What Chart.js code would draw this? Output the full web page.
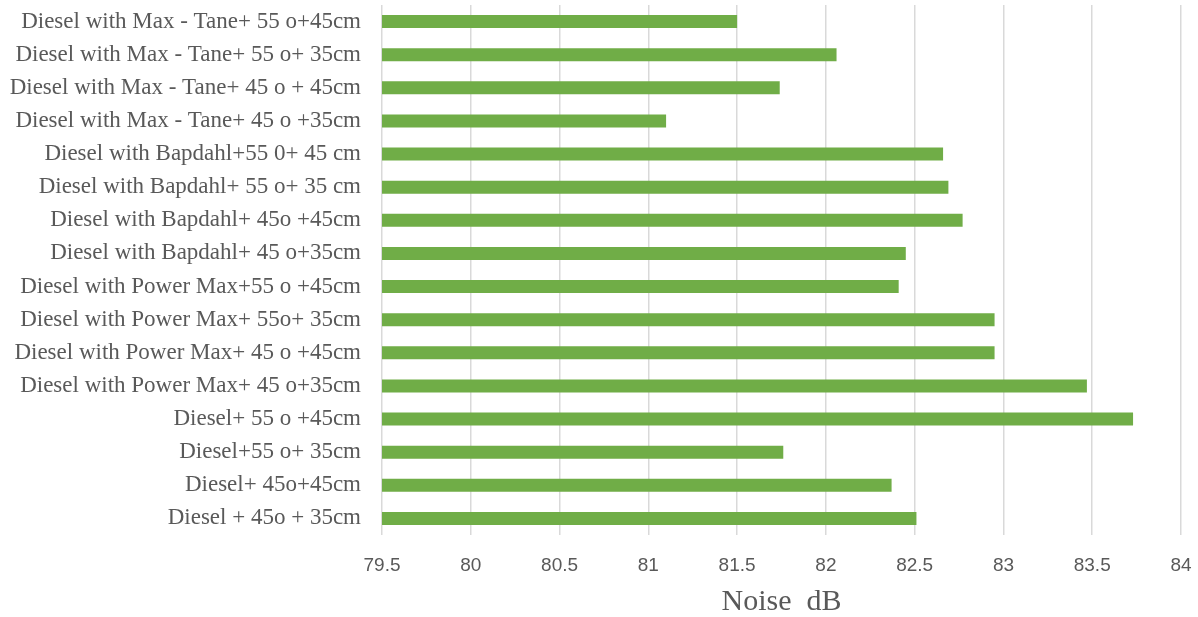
<!DOCTYPE html>
<html lang="en">
<head>
    <meta charset="UTF-8">
    <title>Noise dB</title>
    <script src="https://cdn.jsdelivr.net/npm/chart.js"></script>
    <style>
        html, body { margin: 0; padding: 0; background: #fff; }
        .wrap { width: 1198px; height: 617px; }
    </style>
</head>
<body>
    <div class="wrap">
        <canvas id="noiseChart" width="1198" height="617"></canvas>
    </div>

    <script>
        // Categories, top to bottom as in the picture
        const categories = [
            'Diesel with Max - Tane+ 55 o+45cm',
            'Diesel with Max - Tane+ 55 o+ 35cm',
            'Diesel with Max - Tane+ 45 o + 45cm',
            'Diesel with Max - Tane+ 45 o +35cm',
            'Diesel with Bapdahl+55 0+ 45 cm',
            'Diesel with Bapdahl+ 55 o+ 35 cm',
            'Diesel with Bapdahl+ 45o +45cm',
            'Diesel with Bapdahl+ 45 o+35cm',
            'Diesel with Power Max+55 o +45cm',
            'Diesel with Power Max+ 55o+ 35cm',
            'Diesel with Power Max+ 45 o +45cm',
            'Diesel with Power Max+ 45 o+35cm',
            'Diesel+ 55 o +45cm',
            'Diesel+55 o+ 35cm',
            'Diesel+ 45o+45cm',
            'Diesel + 45o + 35cm'
        ];

        // Noise level (dB)
        const noiseValues = [
            81.50, 82.06, 81.74, 81.10,
            82.66, 82.69, 82.77, 82.45,
            82.41, 82.95, 82.95, 83.47,
            83.73, 81.76, 82.37, 82.51
        ];

        // x axis range
        const xMin = 79.5;
        const xMax = 84;
        const xStep = 0.5;

        const serif = '"Liberation Serif", "Times New Roman", serif';
        const sans = '"Liberation Sans", Arial, sans-serif';
        const grey = '#595959';

        new Chart(document.getElementById('noiseChart'), {
            type: 'bar',
            data: {
                labels: categories,
                datasets: [{
                    label: 'Noise dB',
                    data: noiseValues,
                    backgroundColor: '#70ad47',
                    barPercentage: 0.5,
                    categoryPercentage: 0.79
                }]
            },
            options: {
                indexAxis: 'y',
                responsive: false,
                animation: false,
                layout: { padding: { top: 5, right: 17, left: 0, bottom: 0 } },
                plugins: {
                    legend: { display: false },
                    tooltip: { enabled: false }
                },
                scales: {
                    x: {
                        min: xMin,
                        max: xMax,
                        ticks: {
                            stepSize: xStep,
                            color: grey,
                            padding: 19,
                            font: { family: sans, size: 19 },
                            callback: (v) => String(Number(v))
                        },
                        grid: { color: '#d9d9d9', lineWidth: 1.5, drawTicks: false },
                        border: { display: false },
                        title: {
                            display: true,
                            text: 'Noise  dB',
                            color: grey,
                            padding: { top: 0, bottom: 0 },
                            font: { family: serif, size: 30, lineHeight: 1 }
                        },
                        afterFit: (s) => {
                            s.height = 82;
                            s.paddingLeft = 0;
                            s.paddingRight = 0;
                        }
                    },
                    y: {
                        ticks: {
                            color: grey,
                            padding: 21,
                            autoSkip: false,
                            font: { family: serif, size: 23 }
                        },
                        grid: { display: false, drawTicks: false },
                        border: { display: false },
                        afterFit: (s) => {
                            s.width = 382;
                            s.paddingTop = 0;
                            s.paddingBottom = 0;
                        }
                    }
                }
            }
        });
    </script>
</body>
</html>
